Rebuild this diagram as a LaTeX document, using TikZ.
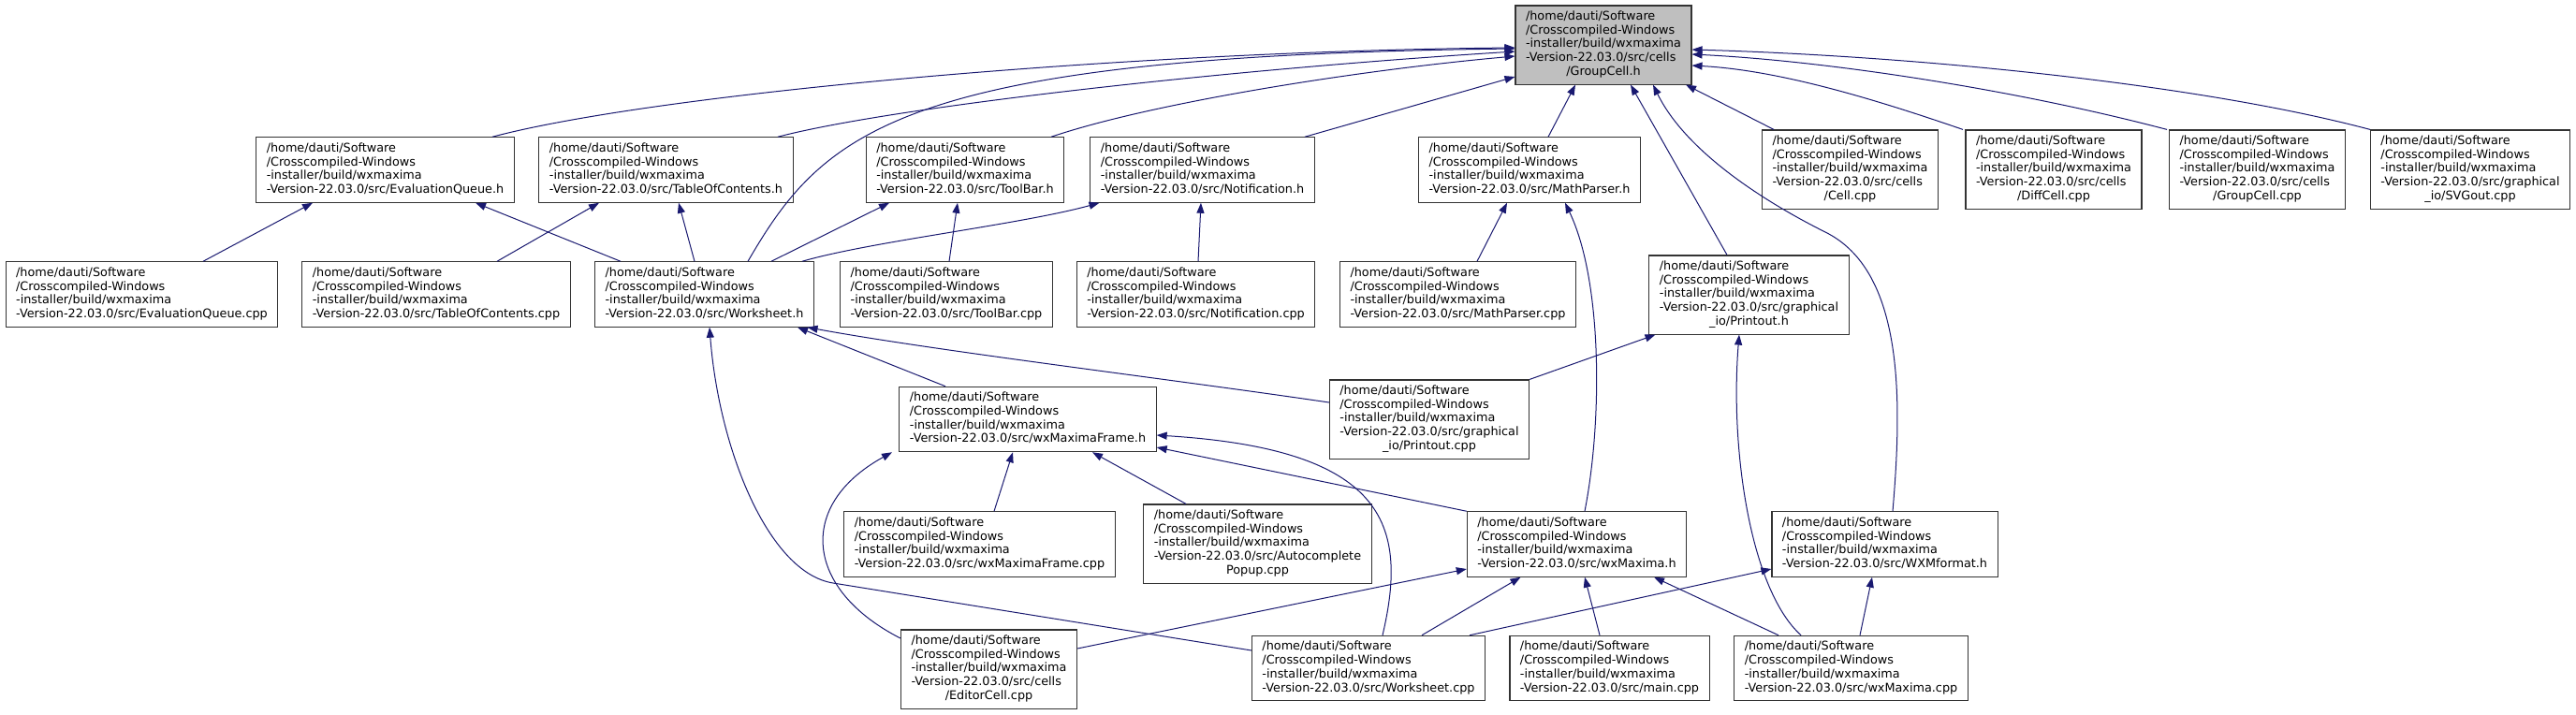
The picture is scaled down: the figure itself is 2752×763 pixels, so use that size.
\documentclass[tikz,border=0pt]{standalone}
\usepackage{fontspec}
\setmainfont{DejaVu Sans}
\usepackage{xcolor}
\usepackage{tikz}
\usetikzlibrary{arrows.meta,calc}
\definecolor{edgeblue}{HTML}{191970}
\definecolor{boxline}{HTML}{333333}
\definecolor{focusfill}{HTML}{BFBFBF}
\newcommand{\Fp}[1]{\begin{tabular}{@{}l@{}}/home/dauti/Software\\/Crosscompiled-Windows\\-installer/build/wxmaxima\\-Version-22.03.0/src/#1\end{tabular}}
\newcommand{\Fpp}[2]{\begin{tabular}{@{}l@{}}/home/dauti/Software\\/Crosscompiled-Windows\\-installer/build/wxmaxima\\-Version-22.03.0/src/#1\\\multicolumn{1}{@{}c@{}}{#2}\end{tabular}}

\begin{document}
\begin{tikzpicture}[x=1pt,y=-1pt,
  font=\fontsize{12.8}{14.7}\selectfont,
  file/.style={rectangle,draw=boxline,line width=1.1pt,fill=white,
    inner xsep=11pt,inner ysep=5.3pt},
  focus/.style={file,fill=focusfill},
  arr/.style={-{Triangle[length=11pt,width=8pt]},line width=1pt,edgeblue}]

\fill[white] (0,0) rectangle (2752,763);
\useasboundingbox (0,0) rectangle (2752,763);

% top: the header everything includes
\node[focus] (gc_h) at (1713,48) {\Fpp{cells}{/GroupCell.h}};

% row 2
\node[file] (evq_h) at (411.5,181.5) {\Fp{EvaluationQueue.h}};
\node[file] (toc_h) at (711.5,181.5) {\Fp{TableOfContents.h}};
\node[file] (tb_h) at (1031,181.5) {\Fp{ToolBar.h}};
\node[file] (nt_h) at (1284.5,181.5) {\Fp{Notification.h}};
\node[file] (mp_h) at (1634,181.5) {\Fp{MathParser.h}};
\node[file] (cell_cpp) at (1976.5,181) {\Fpp{cells}{/Cell.cpp}};
\node[file] (diff_cpp) at (2194,181) {\Fpp{cells}{/DiffCell.cpp}};
\node[file] (grp_cpp) at (2411.5,181) {\Fpp{cells}{/GroupCell.cpp}};
\node[file] (svg_cpp) at (2639,181) {\Fpp{graphical}{\_io/SVGout.cpp}};

% row 3
\node[file] (evq_cpp) at (151.5,314.5) {\Fp{EvaluationQueue.cpp}};
\node[file] (toc_cpp) at (466,314.5) {\Fp{TableOfContents.cpp}};
\node[file] (ws_h) at (752.5,314.5) {\Fp{Worksheet.h}};
\node[file] (tb_cpp) at (1011,314.5) {\Fp{ToolBar.cpp}};
\node[file] (nt_cpp) at (1277.5,314.5) {\Fp{Notification.cpp}};
\node[file] (mp_cpp) at (1557.5,314.5) {\Fp{MathParser.cpp}};
\node[file] (po_h) at (1868.5,315) {\Fpp{graphical}{\_io/Printout.h}};

% row 4
\node[file] (wmf_h) at (1098,448) {\Fp{wxMaximaFrame.h}};
\node[file] (po_cpp) at (1527,448) {\Fpp{graphical}{\_io/Printout.cpp}};

% row 5
\node[file] (wmf_cpp) at (1046.5,581.5) {\Fp{wxMaximaFrame.cpp}};
\node[file] (ac_cpp) at (1343.5,581) {\Fpp{Autocomplete}{Popup.cpp}};
\node[file] (wm_h) at (1684.5,581.5) {\Fp{wxMaxima.h}};
\node[file] (wxm_h) at (2013.5,581.5) {\Fp{WXMformat.h}};

% row 6
\node[file] (ed_cpp) at (1056.5,715) {\Fpp{cells}{/EditorCell.cpp}};
\node[file] (ws_cpp) at (1462,714) {\Fp{Worksheet.cpp}};
\node[file] (main_cpp) at (1719.5,714) {\Fp{main.cpp}};
\node[file] (wm_cpp) at (1977.5,714) {\Fp{wxMaxima.cpp}};

% into GroupCell.h
\draw[arr] ([xshift=114.5]evq_h.north) .. controls (700,100) and (1200,55) .. ([yshift=-3]gc_h.west);
\draw[arr] ([xshift=46.5]ws_h.north) .. controls (880,140) and (960,60) .. ([yshift=-4]gc_h.west);
\draw[arr] ([xshift=119.5]toc_h.north) .. controls (950,115) and (1300,75) .. ([yshift=-7]gc_h.west);
\draw[arr] ([xshift=92]tb_h.north) .. controls (1230,110) and (1450,75) .. ([yshift=-12]gc_h.west);
\draw[arr] ([xshift=109.5]nt_h.north) -- ([yshift=-34]gc_h.west);
\draw[arr] ([xshift=20]mp_h.north) -- ([xshift=-30]gc_h.south);
\draw[arr] ([xshift=-23.5]po_h.north) -- ([xshift=29]gc_h.south);
\draw[arr] ([xshift=8.5]wxm_h.north) .. controls (2032,430) and (2035,290) .. (1950,248)
  .. controls (1880,213) and (1800,160) .. ([xshift=53]gc_h.south);
\draw[arr] ([xshift=-81.5]cell_cpp.north) -- ([xshift=88]gc_h.south);
\draw[arr] ([xshift=-97]diff_cpp.north) .. controls (2000,105) and (1900,75) .. ([yshift=-22]gc_h.east);
\draw[arr] ([xshift=-96.5]grp_cpp.north) .. controls (2150,95) and (1950,65) .. ([yshift=-10]gc_h.east);
\draw[arr] ([xshift=-107]svg_cpp.north) .. controls (2350,90) and (2050,60) .. ([yshift=-5]gc_h.east);

% row 3 -> row 2
\draw[arr] ([xshift=65.5]evq_cpp.north) -- ([xshift=-77.5]evq_h.south);
\draw[arr] ([xshift=-89.5]ws_h.north) -- ([xshift=96.5]evq_h.south);
\draw[arr] ([xshift=65]toc_cpp.north) -- ([xshift=-71.5]toc_h.south);
\draw[arr] ([xshift=-10.5]ws_h.north) -- ([xshift=13.5]toc_h.south);
\draw[arr] ([xshift=71.5]ws_h.north) -- ([xshift=-81]tb_h.south);
\draw[arr] ([xshift=104.5]ws_h.north) .. controls (930,258) and (1090,240) .. ([xshift=-110]nt_h.south);
\draw[arr] ([xshift=3]tb_cpp.north) -- ([xshift=-8]tb_h.south);
\draw[arr] ([xshift=2.5]nt_cpp.north) -- ([xshift=-1.5]nt_h.south);
\draw[arr] ([xshift=20.5]mp_cpp.north) -- ([xshift=-24]mp_h.south);
\draw[arr] ([xshift=8.5]wm_h.north) .. controls (1712,450) and (1712,300) .. ([xshift=38]mp_h.south);

% Printout.h
\draw[arr] (po_cpp.north east) -- ([xshift=-100]po_h.south);
\draw[arr] ([xshift=-53.5]wm_cpp.north) .. controls (1870,630) and (1848,480) .. ([xshift=-10.5]po_h.south);

% Worksheet.h
\draw[arr] ([xshift=-88]wmf_h.north) -- ([xshift=99.5]ws_h.south);
\draw[arr] ([yshift=18]po_cpp.west) .. controls (1250,405) and (1000,375) .. ([xshift=110]ws_h.south);
\draw[arr] ([yshift=19]ws_cpp.west) -- (890,623) .. controls (821,612) and (768,480) .. ([xshift=5.5]ws_h.south);

% wxMaximaFrame.h
\draw[arr] ([xshift=15.5]wmf_cpp.north) -- ([xshift=-16]wmf_h.south);
\draw[arr] ([xshift=-76.5]ac_cpp.north) -- ([xshift=69]wmf_h.south);
\draw[arr] ([yshift=33]ed_cpp.west) .. controls (860,630) and (850,540) .. ([xshift=-145]wmf_h.south);
\draw[arr] ([xshift=15]ws_cpp.north) .. controls (1505,560) and (1480,480) .. ([yshift=-17]wmf_h.east);
\draw[arr] (wm_h.north west) -- ([yshift=-30]wmf_h.east);

% wxMaxima.h and WXMformat.h
\draw[arr] ([yshift=22]ed_cpp.east) -- ([yshift=-26.5]wm_h.west);
\draw[arr] ([xshift=57]ws_cpp.north) -- ([xshift=-60]wm_h.south);
\draw[arr] ([xshift=-10.5]main_cpp.north) -- ([xshift=8.5]wm_h.south);
\draw[arr] ([xshift=-77.5]wm_cpp.north) -- ([xshift=82.5]wm_h.south);
\draw[arr] ([xshift=108]ws_cpp.north) -- ([yshift=-26.5]wxm_h.west);
\draw[arr] ([xshift=9.5]wm_cpp.north) -- ([xshift=-13.5]wxm_h.south);
\end{tikzpicture}
\end{document}
